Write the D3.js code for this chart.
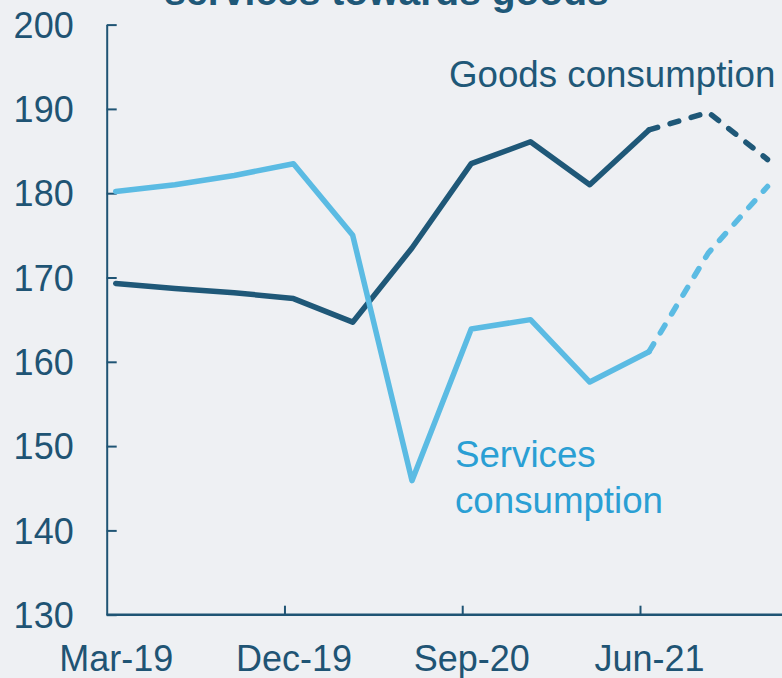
<!DOCTYPE html>
<html>
<head>
<meta charset="utf-8">
<script src="https://cdn.jsdelivr.net/npm/d3@7"></script>
<style>
  html, body { margin: 0; padding: 0; background: #eef0f3; }
  svg { display: block; }
  text { font-family: "Liberation Sans", Arial, sans-serif; }
</style>
</head>
<body>
<svg id="chart" width="782" height="678"></svg>
<script>
const quarters = ["Mar-19","Jun-19","Sep-19","Dec-19","Mar-20","Jun-20","Sep-20","Dec-20","Mar-21","Jun-21","Sep-21","Dec-21"];
const goods    = [169.3, 168.7, 168.2, 167.5, 164.7, 173.5, 183.5, 186.1, 181.0, 187.5, 189.6, 184.0];
const services = [180.2, 181.0, 182.1, 183.5, 175.0, 145.9, 163.9, 165.0, 157.6, 161.2, 172.9, 180.8];
const forecastStart = 9; // index from which the lines are dashed (projection)
const xTickLabels = ["Mar-19","Dec-19","Sep-20","Jun-21"];
const yTicks = [130, 140, 150, 160, 170, 180, 190, 200];
const titleText = "services towards goods";
const goodsLabel = "Goods consumption";
const servicesLabel = ["Services", "consumption"];

const svg = d3.select("#chart");
const axisColor = "#1f5474";
const goodsColor = "#1f5878";
const servicesColor = "#5bbbe3";

// index scale: point i sits at x(i)
const x = d3.scaleLinear().domain([0, 11]).range([115.7, 767.5]);
const y = d3.scaleLinear().domain([130, 200]).range([614.7, 24.6]);
const xLeft = 106.7, xRight = 782;
const tickOffset = x.invert(xLeft); // negative offset in index units

// title (cut off at top, as in the reference)
svg.append("text")
  .attr("x", 386.5).attr("y", 5)
  .attr("text-anchor", "middle")
  .attr("font-size", 39).attr("font-weight", "bold")
  .attr("fill", goodsColor)
  .text(titleText);

// y axis
const yAxis = d3.axisLeft(y).tickValues(yTicks).tickSize(10).tickSizeOuter(0).tickPadding(0);
const gy = svg.append("g").attr("transform", `translate(${xLeft},0)`).call(yAxis);
gy.select(".domain").attr("stroke", axisColor).attr("stroke-width", 2);
gy.selectAll(".tick line").attr("stroke", axisColor).attr("stroke-width", 2).attr("x2", 10);
gy.selectAll(".tick text")
  .attr("x", -33).attr("text-anchor", "end").attr("dy", "0.35em")
  .attr("font-size", 36).attr("fill", axisColor)
  .style("font-family", "'Liberation Sans', Arial, sans-serif");

// x axis line
const gx = svg.append("g").attr("transform", `translate(0,${y(130)})`);
gx.append("line").attr("x1", xLeft).attr("x2", xRight).attr("y1", 0).attr("y2", 0)
  .attr("stroke", axisColor).attr("stroke-width", 2.5);

// x tick marks (every 3 quarters, starting at axis origin)
const tickIdx = xTickLabels.map(l => quarters.indexOf(l));
const xTickAxis = d3.axisTop(x).tickValues(tickIdx.slice(1).map(i => i + tickOffset)).tickSize(9).tickFormat("");
const gxt = svg.append("g").attr("transform", `translate(0,${y(130)})`).call(xTickAxis);
gxt.select(".domain").remove();
gxt.selectAll(".tick line").attr("stroke", axisColor).attr("stroke-width", 2);

// x labels centred on their data points
const xLabelAxis = d3.axisBottom(x).tickValues(tickIdx).tickSize(0).tickPadding(0)
  .tickFormat(i => quarters[i]);
const gxl = svg.append("g").attr("transform", `translate(0,${y(130)})`).call(xLabelAxis);
gxl.select(".domain").remove();
gxl.selectAll(".tick text")
  .attr("y", 56).attr("dy", 0)
  .attr("font-size", 36).attr("fill", axisColor)
  .style("font-family", "'Liberation Sans', Arial, sans-serif");

// lines
const line = d3.line().x(d => x(d.i)).y(d => y(d.v));
function drawSeries(vals, color) {
  const pts = vals.map((v, i) => ({i, v}));
  svg.append("path").datum(pts.slice(0, forecastStart + 1))
    .attr("d", line).attr("fill", "none").attr("stroke", color)
    .attr("stroke-width", 5.5).attr("stroke-linejoin", "round").attr("stroke-linecap", "round");
  svg.append("path").datum(pts.slice(forecastStart))
    .attr("d", line).attr("fill", "none").attr("stroke", color)
    .attr("stroke-width", 5.5).attr("stroke-linejoin", "round").attr("stroke-linecap", "round")
    .attr("stroke-dasharray", "9,13");
}
drawSeries(goods, goodsColor);
drawSeries(services, servicesColor);

// series labels
svg.append("text").attr("x", 449).attr("y", 87)
  .attr("font-size", 36.7).attr("fill", goodsColor).text(goodsLabel);
const sl = svg.append("text").attr("x", 455).attr("y", 467)
  .attr("font-size", 36.7).attr("fill", "#2a9fd4");
servicesLabel.forEach((t, k) => {
  sl.append("tspan").attr("x", 455).attr("y", 467 + k * 46).text(t);
});
</script>
</body>
</html>
